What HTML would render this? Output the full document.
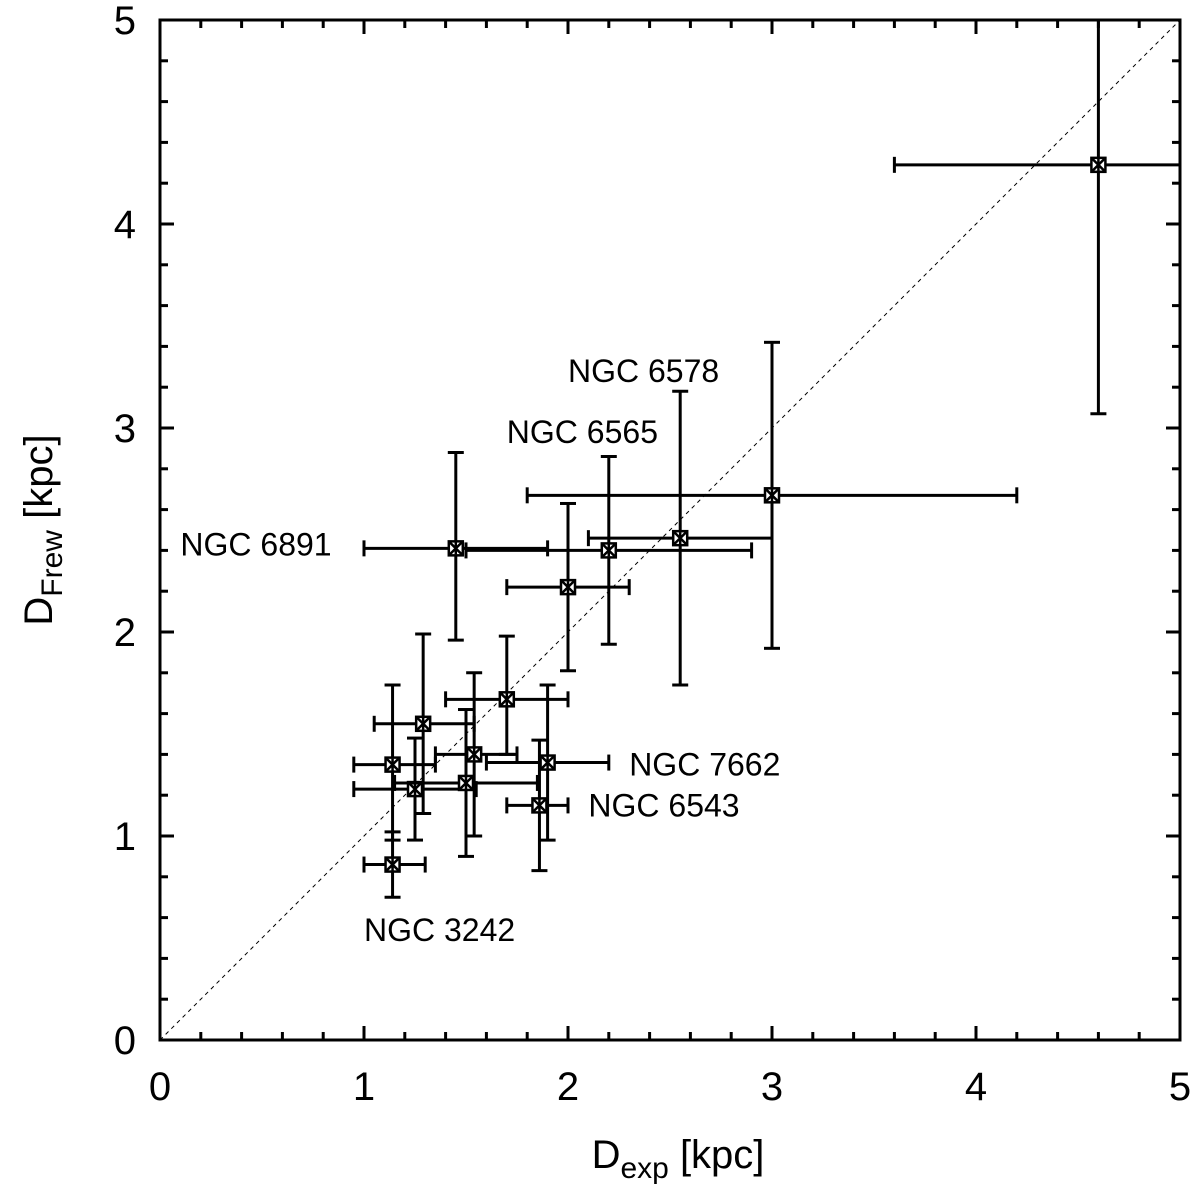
<!DOCTYPE html>
<html><head><meta charset="utf-8"><style>
body{margin:0;background:#fff}
svg{display:block;font-family:"Liberation Sans",sans-serif}
</style></head><body>
<svg id="c" width="1200" height="1191">
<g id="plot"></g>
</svg>
<script>
const xs=[1.14,1.29,1.25,1.50,1.54,1.70,1.90,1.86,1.14,1.45,2.00,2.20,2.55,3.00,4.60];
const ys=[1.35,1.55,1.23,1.26,1.40,1.67,1.36,1.15,0.86,2.41,2.22,2.40,2.46,2.67,4.29];
const xlo=[0.95,1.05,0.95,1.15,1.35,1.40,1.60,1.70,1.00,1.00,1.70,1.50,2.10,1.80,3.60];
const xhi=[1.35,1.54,1.55,1.85,1.75,2.00,2.20,2.00,1.30,1.90,2.30,2.90,3.00,4.20,5.00];
const ylo=[0.98,1.11,0.98,0.90,1.00,1.40,0.98,0.83,0.70,1.96,1.81,1.94,1.74,1.92,3.07];
const yhi=[1.74,1.99,1.48,1.62,1.80,1.98,1.74,1.47,1.02,2.88,2.63,2.86,3.18,3.42,5.00];
const labels=["NGC 6578","NGC 6565","NGC 6891","NGC 7662","NGC 6543","NGC 3242"];
const labelX=[2.00,1.70,0.10,2.30,2.10,1.00];
const labelY=[3.28,2.98,2.43,1.35,1.15,0.54];
const ticks=[0,1,2,3,4,5];
const X0=160,X1=1180,Y0=1040,Y1=20;
const sx=v=>X0+(X1-X0)*v/5, sy=v=>Y0-(Y0-Y1)*v/5;
const NS="http://www.w3.org/2000/svg", g=document.getElementById('plot');
function mk(t,a,txt){const e=document.createElementNS(NS,t);for(const k in a)e.setAttribute(k,a[k]);if(txt!==undefined)e.textContent=txt;g.appendChild(e);return e;}
let e;
e=mk('line',{x1:sx(0),y1:sy(0),x2:sx(5),y2:sy(5),stroke:'#000','stroke-width':1,'stroke-dasharray':'4,4'});

for(let i=0;i<=25;i++){const v=i/5,L=(i%5==0)?14:8;
 mk('line',{x1:sx(v),y1:Y0,x2:sx(v),y2:Y0-L,stroke:'#000','stroke-width':3});
 mk('line',{x1:sx(v),y1:Y1,x2:sx(v),y2:Y1+L,stroke:'#000','stroke-width':3});
 mk('line',{x1:X0,y1:sy(v),x2:X0+L,y2:sy(v),stroke:'#000','stroke-width':3});
 mk('line',{x1:X1,y1:sy(v),x2:X1-L,y2:sy(v),stroke:'#000','stroke-width':3});}
ticks.forEach(t=>{
 e=mk('text',{x:sx(t),y:1100,'font-size':40,'text-anchor':'middle'},t);
 
 e=mk('text',{x:136,y:sy(t)+14,'font-size':40,'text-anchor':'end'},t);
 });
for(let i=0;i<xs.length;i++){
 const px=sx(xs[i]),py=sy(ys[i]);
 const eg=mk('g',{stroke:'#000','stroke-width':3,fill:'none'});
 
 const a=(t,at)=>{const el=document.createElementNS(NS,t);for(const k in at)el.setAttribute(k,at[k]);eg.appendChild(el);};
 const xl=sx(xlo[i]),xh=Math.min(sx(xhi[i]),X1),yl=sy(ylo[i]),yh=Math.max(sy(yhi[i]),Y1);
 a('line',{x1:xl,y1:py,x2:xh,y2:py});a('line',{x1:px,y1:yl,x2:px,y2:yh});
 a('line',{x1:xl,y1:py-8,x2:xl,y2:py+8});if(xhi[i]<5)a('line',{x1:xh,y1:py-8,x2:xh,y2:py+8});
 a('line',{x1:px-8,y1:yl,x2:px+8,y2:yl});if(yhi[i]<5)a('line',{x1:px-8,y1:yh,x2:px+8,y2:yh});
 a('rect',{x:px-7,y:py-7,width:14,height:14,fill:'#fff','stroke-width':2.5});
 a('path',{d:`M${px-6},${py-6}L${px+6},${py+6}M${px+6},${py-6}L${px-6},${py+6}M${px},${py-6}L${px},${py+6}`,'stroke-width':2.5});}
labels.forEach((s,i)=>{e=mk('text',{x:sx(labelX[i]),y:sy(labelY[i])+11,'font-size':32},s);
 });
e=mk('rect',{x:X0,y:Y1,width:X1-X0,height:Y0-Y1,fill:'none',stroke:'#000','stroke-width':3});

e=mk('text',{x:678,y:1168,'font-size':40,'text-anchor':'middle'});
e.innerHTML='D<tspan font-size="30" dy="10">exp</tspan><tspan dy="-10"> [kpc]</tspan>';

e=mk('text',{x:0,y:0,'font-size':40,'text-anchor':'middle',transform:'translate(52,530) rotate(-90)'});
e.innerHTML='D<tspan font-size="30" dy="10">Frew</tspan><tspan dy="-10"> [kpc]</tspan>';

</script>
</body></html>
